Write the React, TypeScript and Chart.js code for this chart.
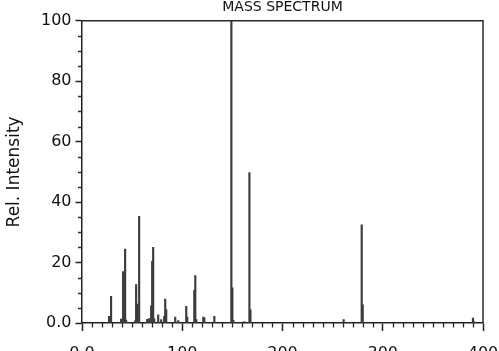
import React, { useEffect, useRef } from "react";
import { Chart, registerables } from "chart.js";

Chart.register(...registerables);

// m/z values and relative intensities
const mzValues = [27, 29, 39, 41, 42, 43, 44, 53, 54, 55, 57, 65, 67, 69, 70, 71, 72, 76, 79, 82, 83, 84, 93, 96, 104, 105, 112, 113, 114, 121, 122, 132, 149, 150, 151, 162, 167, 168, 261, 279, 280, 390, 391];
const intensities = [2.2, 8.8, 1.3, 17, 2, 24.5, 1, 0.7, 12.7, 6.3, 35.3, 1.2, 1.5, 5.7, 20.4, 25, 1.4, 2.7, 1.1, 2.2, 7.9, 4.4, 2, 0.8, 5.5, 2, 10.8, 15.7, 1.1, 2, 1.7, 2.2, 100, 11.6, 0.9, 0.5, 49.8, 4.4, 1.1, 32.5, 6, 1.6, 0.5];

const xMajorTicks = [0, 100, 200, 300, 400];
const yMajorTicks = [0, 20, 40, 60, 80, 100];
const xMinorStep = 10;
const yMinorStep = 5;

const FONT = "'DejaVu Sans', sans-serif";

const framePlugin = {
  id: "frameAndMinorTicks",
  afterDraw(chart: any) {
    const { ctx, chartArea, scales } = chart;
    const xs = scales.x;
    const ys = scales.y;
    ctx.save();
    ctx.strokeStyle = "#2a2a2a";
    ctx.lineWidth = 1.5;
    ctx.beginPath();
    ctx.moveTo(chartArea.left, chartArea.top);
    ctx.lineTo(chartArea.right, chartArea.top);
    ctx.lineTo(chartArea.right, chartArea.bottom);
    ctx.stroke();
    ctx.lineWidth = 1.3;
    ctx.beginPath();
    for (let v = xs.min; v <= xs.max; v += xMinorStep) {
      if (xMajorTicks.includes(v)) continue;
      const px = Math.round(xs.getPixelForValue(v)) + 0.5;
      ctx.moveTo(px, chartArea.bottom);
      ctx.lineTo(px, chartArea.bottom + 4.5);
    }
    for (let v = ys.min; v <= ys.max; v += yMinorStep) {
      if (yMajorTicks.includes(v)) continue;
      const py = Math.round(ys.getPixelForValue(v)) + 0.5;
      ctx.moveTo(chartArea.left, py);
      ctx.lineTo(chartArea.left - 4, py);
    }
    ctx.stroke();
    ctx.restore();
  },
};

export default function App() {
  const canvasRef = useRef<HTMLCanvasElement | null>(null);

  useEffect(() => {
    if (!canvasRef.current) return;
    const data = mzValues.map((m, i) => ({ x: m, y: intensities[i] }));
    const chart = new Chart(canvasRef.current, {
      type: "bar",
      data: {
        datasets: [
          {
            data,
            backgroundColor: "#3c3c3c",
            borderWidth: 0,
            barThickness: 1.5,
          } as any,
        ],
      },
      options: {
        animation: false,
        responsive: true,
        maintainAspectRatio: false,
        layout: { padding: { left: 0, right: 16, top: 0, bottom: 0 } },
        plugins: {
          legend: { display: false },
          tooltip: { enabled: false },
          title: {
            display: true,
            fullSize: false,
            text: "MASS SPECTRUM",
            color: "#111",
            font: { family: FONT, size: 14, weight: "normal" },
            padding: { top: -1, bottom: 5 },
          },
        },
        scales: {
          x: {
            type: "linear",
            min: 0,
            max: 400,
            offset: false,
            afterFit: (scale: any) => {
              scale.height = 42;
              scale.paddingLeft = 0;
              scale.paddingRight = 0;
            },
            afterBuildTicks: (scale: any) => {
              scale.ticks = xMajorTicks.map((v) => ({ value: v }));
            },
            grid: {
              offset: false,
              drawOnChartArea: false,
              drawTicks: true,
              tickLength: 8,
              tickColor: "#222",
              tickWidth: 1.5,
            },
            border: { display: true, color: "#222", width: 1.5 },
            ticks: {
              color: "#111",
              padding: 13,
              maxRotation: 0,
              font: { family: FONT, size: 16 },
              callback: (v: any) => (v === 0 ? "0.0" : String(v)),
            },
          },
          y: {
            type: "linear",
            min: 0,
            max: 100,
            afterFit: (scale: any) => {
              scale.width = 82;
              scale.paddingTop = 0;
              scale.paddingBottom = 0;
            },
            afterBuildTicks: (scale: any) => {
              scale.ticks = yMajorTicks.map((v) => ({ value: v }));
            },
            grid: {
              offset: false,
              drawOnChartArea: false,
              drawTicks: true,
              tickLength: 6.5,
              tickColor: "#222",
              tickWidth: 1.5,
            },
            border: { display: true, color: "#222", width: 1.5 },
            title: {
              display: true,
              text: "Rel. Intensity",
              color: "#111",
              font: { family: FONT, size: 17 },
              padding: { top: 4, bottom: 2 },
            },
            ticks: {
              color: "#111",
              padding: 4,
              font: { family: FONT, size: 16 },
              callback: (v: any) => (v === 0 ? "0.0" : String(v)),
            },
          },
        },
      },
      plugins: [framePlugin],
    });
    return () => chart.destroy();
  }, []);

  return (
    <div
      style={{
        position: "fixed",
        left: 0,
        top: 0,
        width: 499,
        height: 351,
        overflow: "hidden",
        background: "#fff",
      }}
    >
      <div style={{ position: "relative", width: 499, height: 365 }}>
        <canvas ref={canvasRef} />
      </div>
    </div>
  );
}
